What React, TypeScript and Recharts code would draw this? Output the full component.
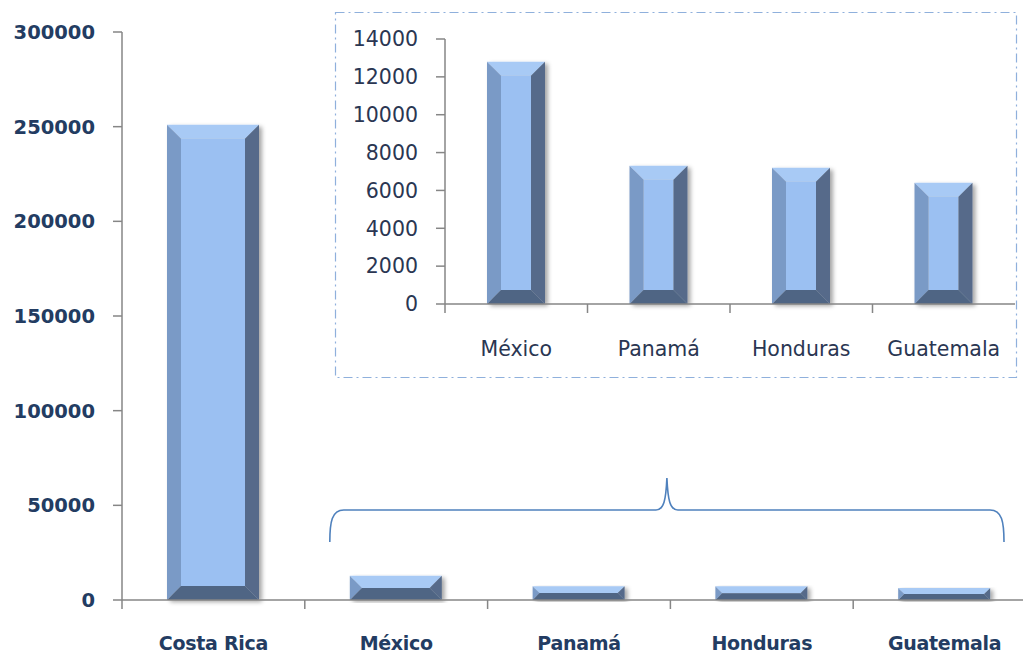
import React from 'react';
import { BarChart, Bar, XAxis, YAxis } from 'recharts';

// values
const mainCategories = ['Costa Rica', 'México', 'Panamá', 'Honduras', 'Guatemala'];
const mainValues = [251000, 12800, 7300, 7200, 6400];
const mainTicks = [0, 50000, 100000, 150000, 200000, 250000, 300000];

const insetCategories = ['México', 'Panamá', 'Honduras', 'Guatemala'];
const insetValues = [12800, 7300, 7200, 6400];
const insetTicks = [0, 2000, 4000, 6000, 8000, 10000, 12000, 14000];

const mainData = mainCategories.map((name, i) => ({ name, value: mainValues[i] }));
const insetData = insetCategories.map((name, i) => ({ name, value: insetValues[i] }));

// layout
const MAIN_W = 1036;
const MAIN_H = 653;
const MAIN_LEFT = 122;
const MAIN_TOP = 32;
const MAIN_BOTTOM = 600;
const MAIN_BAND = (MAIN_W - MAIN_LEFT) / mainCategories.length;

const INSET_X = 335;
const INSET_Y = 12;
const INSET_W = 682;
const INSET_H = 366;
const INSET_LEFT = 110;
const INSET_TOP = 27;
const INSET_BOTTOM = 292;
const INSET_RIGHT = 2;
const INSET_BAND = (INSET_W - INSET_LEFT - INSET_RIGHT) / insetCategories.length;

const AXIS = '#868686';
const FONT = '"DejaVu Sans", sans-serif';
const TEXT_MAIN = '#233c62';
const TEXT_INSET = '#2a3652';

const BevelBar = (props: any) => {
  const { x, y, width: w, height: h } = props;
  if (!h || h <= 0) return null;
  const b = Math.min(14, w / 2, h / 2);
  return (
    <g filter="url(#barShadow)">
      <rect x={x + b} y={y + b} width={w - 2 * b} height={Math.max(0, h - 2 * b)} fill="#9bc0f2" />
      <polygon points={`${x},${y} ${x + w},${y} ${x + w - b},${y + b} ${x + b},${y + b}`} fill="#a8caf5" />
      <polygon points={`${x},${y} ${x + b},${y + b} ${x + b},${y + h - b} ${x},${y + h}`} fill="#7a9ac6" />
      <polygon points={`${x + w},${y} ${x + w},${y + h} ${x + w - b},${y + h - b} ${x + w - b},${y + b}`} fill="#566b8a" />
      <polygon points={`${x},${y + h} ${x + b},${y + h - b} ${x + w - b},${y + h - b} ${x + w},${y + h}`} fill="#4f6584" />
    </g>
  );
};

const MainTick = (props: any) => {
  const { x, payload } = props;
  const tx = x - MAIN_BAND / 2;
  return (
    <g>
      <line x1={tx} y1={MAIN_BOTTOM} x2={tx} y2={MAIN_BOTTOM + 9} stroke={AXIS} strokeWidth={1.5} />
      <text x={x} y={MAIN_BOTTOM + 50} textAnchor="middle" fontFamily={FONT} fontSize={19}
        fontWeight="bold" fill={TEXT_MAIN} letterSpacing={-0.3}>
        {payload.value}
      </text>
    </g>
  );
};

const InsetTick = (props: any) => {
  const { x, payload } = props;
  const tx = x - INSET_BAND / 2;
  return (
    <g>
      <line x1={tx} y1={INSET_BOTTOM} x2={tx} y2={INSET_BOTTOM + 9} stroke={AXIS} strokeWidth={1.5} />
      <text x={x} y={INSET_BOTTOM + 52} textAnchor="middle" fontFamily={FONT} fontSize={20.5} fill={TEXT_INSET}>
        {payload.value}
      </text>
    </g>
  );
};

const bL = MAIN_LEFT + MAIN_BAND + 25;
const bR = MAIN_LEFT + MAIN_BAND * 5 - 32;
const bM = (bL + bR) / 2;
const bY = 510;
const bracePath =
  `M${bL},542 C${bL},522 ${bL + 2},${bY} ${bL + 14},${bY} L${bM - 11},${bY} ` +
  `C${bM - 3},${bY} ${bM - 1},${bY - 10} ${bM},478 C${bM + 1},${bY - 10} ${bM + 3},${bY} ${bM + 11},${bY} ` +
  `L${bR - 14},${bY} C${bR - 2},${bY} ${bR},522 ${bR},542`;

export default function App() {
  return (
    <div style={{ position: 'relative', width: 1023, height: 653, overflow: 'hidden', background: '#fff' }}>
      <style>{`body{margin:0}`}</style>
      <svg width={0} height={0} style={{ position: 'absolute' }}>
        <defs>
          <filter id="barShadow" x="-20%" y="-5%" width="150%" height="115%">
            <feDropShadow dx={3} dy={2} stdDeviation={2.2} floodColor="#000" floodOpacity={0.35} />
          </filter>
        </defs>
      </svg>

      <div style={{ position: 'absolute', left: 0, top: 0 }}>
        <BarChart width={MAIN_W} height={MAIN_H} data={mainData}
          margin={{ top: MAIN_TOP, right: 0, bottom: 0, left: 0 }}>
          <XAxis dataKey="name" height={MAIN_H - MAIN_BOTTOM} tickLine={false}
            axisLine={{ stroke: AXIS, strokeWidth: 1.5 }} tick={<MainTick />} interval={0} />
          <YAxis width={MAIN_LEFT} domain={[0, 300000]} ticks={mainTicks} tickSize={9} tickMargin={18}
            axisLine={{ stroke: AXIS, strokeWidth: 1.5 }} tickLine={{ stroke: AXIS, strokeWidth: 1.5 }}
            tick={{ fontFamily: FONT, fontSize: 19.5, fontWeight: 'bold', fill: TEXT_MAIN }} />
          <Bar dataKey="value" barSize={92} shape={<BevelBar />} isAnimationActive={false} />
        </BarChart>
      </div>

      <div style={{ position: 'absolute', left: INSET_X, top: INSET_Y }}>
        <BarChart width={INSET_W} height={INSET_H} data={insetData}
          margin={{ top: INSET_TOP, right: INSET_RIGHT, bottom: 0, left: 0 }}>
          <XAxis dataKey="name" height={INSET_H - INSET_BOTTOM} tickLine={false}
            axisLine={{ stroke: AXIS, strokeWidth: 1.5 }} tick={<InsetTick />} interval={0} />
          <YAxis width={INSET_LEFT} domain={[0, 14000]} ticks={insetTicks} tickSize={9} tickMargin={18}
            axisLine={{ stroke: AXIS, strokeWidth: 1.5 }} tickLine={{ stroke: AXIS, strokeWidth: 1.5 }}
            tick={{ fontFamily: FONT, fontSize: 20.5, fill: TEXT_INSET }} />
          <Bar dataKey="value" barSize={58} shape={<BevelBar />} isAnimationActive={false} />
        </BarChart>
      </div>

      <svg width={1023} height={653} style={{ position: 'absolute', left: 0, top: 0, pointerEvents: 'none' }}>
        <rect x={INSET_X + 0.5} y={INSET_Y + 0.5} width={INSET_W - 1} height={INSET_H - 1} fill="none"
          stroke="#8fb0dc" strokeWidth={1.2} strokeDasharray="9 4 2 4" />
        <path d={bracePath} fill="none" stroke="#4f81bd" strokeWidth={1.6} />
      </svg>
    </div>
  );
}
